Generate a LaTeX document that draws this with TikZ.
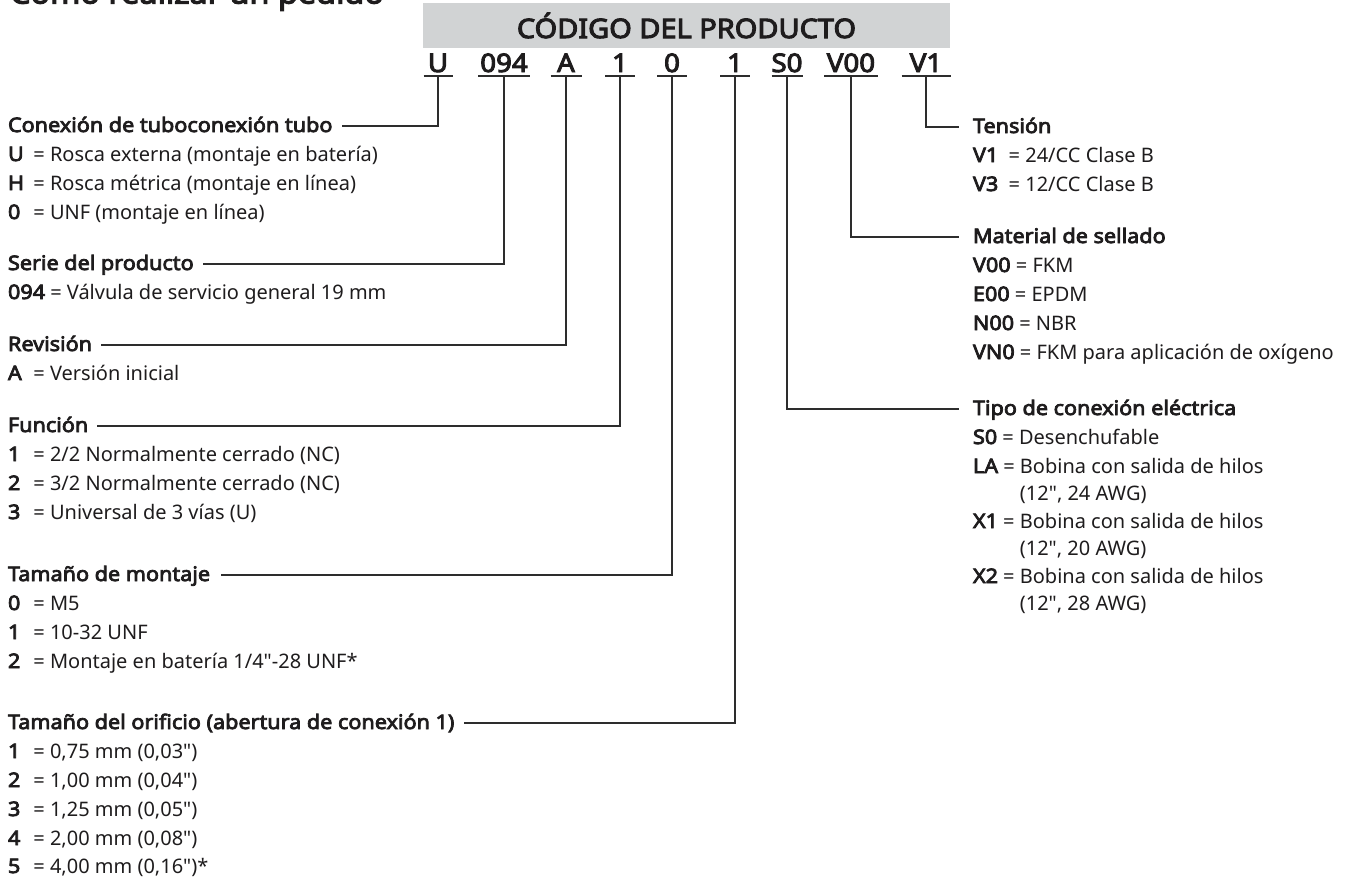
\documentclass[tikz,border=0pt]{standalone}
\usepackage{fontspec}
\setmainfont{Noto Sans}[Ligatures=TeXOff, BoldFont={Noto Sans}, BoldFeatures={FakeBold=3.8, FakeStretch=1.08}]
\definecolor{hdrgray}{RGB}{209,211,212}
\definecolor{ink}{RGB}{30,28,29}
\definecolor{linec}{RGB}{45,45,45}
\newcommand{\kk}[1]{\makebox[12.7pt][l]{\textbf{#1}}}
\begin{document}
\begin{tikzpicture}[x=0.5pt,y=-0.5pt,
  every node/.style={inner sep=0pt, outer sep=0pt, text=ink},
  body/.style={anchor=base west, font=\fontsize{10}{14.5}\selectfont},
  head/.style={anchor=base west, font=\fontsize{10}{14.5}\selectfont\bfseries},
  codebox/.style={anchor=south, font=\fontsize{12.8}{14}\selectfont\bfseries, inner ysep=2pt, text depth=0pt},
  ul/.style={draw=linec, line width=0.75pt},
  conn/.style={draw=linec, line width=0.65pt},
  titlestyle/.style={anchor=base west, font=\fontsize{15}{18}\selectfont\bfseries}
]
\useasboundingbox (0,0) rectangle (1349,879);

% title (cut at top)
\node[titlestyle] (title) at (10,3.5) {Cómo realizar un pedido};

% header
\node[anchor=north west, fill=hdrgray, minimum width=263.5pt, minimum height=22.5pt,
      font=\fontsize{13.4}{15}\selectfont\bfseries] (hdr) at (423,3) {CÓDIGO DEL PRODUCTO};

% code letters
\node[codebox, minimum width=14.5pt] (cU) at (438,76) {U};
\node[codebox, minimum width=26pt]   (c094) at (504,76) {094};
\node[codebox, minimum width=15.5pt] (cA) at (566,76) {A};
\node[codebox, minimum width=15pt]   (cF) at (620,76) {1};
\node[codebox, minimum width=15pt]   (cM) at (672,76) {0};
\node[codebox, minimum width=15pt]   (cO) at (735,76) {1};
\node[codebox, minimum width=15pt]   (cS) at (787,76) {S0};
\node[codebox, minimum width=27pt]   (cV) at (851,76) {V00};
\node[codebox, minimum width=24.5pt] (cT) at (926,76) {V1};
\foreach \n in {cU,c094,cA,cF,cM,cO,cS,cV,cT}
  \draw[ul] (\n.south west) -- (\n.south east);

% left column
\node[head] (hCon) at (8,132) {Conexión de tuboconexión tubo};
\node[body] (u1) at (8,161) {\kk{U}= Rosca externa (montaje en batería)};
\node[body] (u2) at (8,190) {\kk{H}= Rosca métrica (montaje en línea)};
\node[body] (u3) at (8,219) {\kk{0}= UNF (montaje en línea)};

\node[head] (hSer) at (8,270) {Serie del producto};
\node[body] (s1) at (8,299) {\textbf{094} = Válvula de servicio general 19 mm};

\node[head] (hRev) at (8,351) {Revisión};
\node[body] (r1) at (8,380) {\kk{A}= Versión inicial};

\node[head] (hFun) at (8,432) {Función};
\node[body] (f1) at (8,461) {\kk{1}= 2/2 Normalmente cerrado (NC)};
\node[body] (f2) at (8,490) {\kk{2}= 3/2 Normalmente cerrado (NC)};
\node[body] (f3) at (8,519) {\kk{3}= Universal de 3 vías (U)};

\node[head] (hTam) at (8,581) {Tamaño de montaje};
\node[body] (t1) at (8,610) {\kk{0}= M5};
\node[body] (t2) at (8,639) {\kk{1}= 10-32 UNF};
\node[body] (t3) at (8,668) {\kk{2}= Montaje en batería 1/4"-28 UNF*};

\node[head] (hOri) at (8,729) {Tamaño del orificio (abertura de conexión 1)};
\node[body] (o1) at (8,758) {\kk{1}= 0,75 mm (0,03")};
\node[body] (o2) at (8,787) {\kk{2}= 1,00 mm (0,04")};
\node[body] (o3) at (8,816) {\kk{3}= 1,25 mm (0,05")};
\node[body] (o4) at (8,845) {\kk{4}= 2,00 mm (0,08")};
\node[body] (o5) at (8,873) {\kk{5}= 4,00 mm (0,16")*};

% right column
\node[head] (hTen) at (973,133) {Tensión};
\node[body] (v1) at (973,162) {\textbf{V1}\ \ = 24/CC Clase B};
\node[body] (v3) at (973,191) {\textbf{V3}\ \ = 12/CC Clase B};

\node[head] (hMat) at (973,243) {Material de sellado};
\node[body] (m1) at (973,272) {\textbf{V00} = FKM};
\node[body] (m2) at (973,301) {\textbf{E00} = EPDM};
\node[body] (m3) at (973,330) {\textbf{N00} = NBR};
\node[body] (m4) at (973,359) {\textbf{VN0} = FKM para aplicación de oxígeno};

\node[head] (hTip) at (973,415) {Tipo de conexión eléctrica};
\node[body] (e1) at (973,444) {\textbf{S0} = Desenchufable};
\node[body] (e2) at (973,473) {\textbf{LA} = Bobina con salida de hilos};
\node[body] (e2b) at (973,500) {\phantom{\textbf{LA} = }(12", 24 AWG)};
\node[body] (e3) at (973,528) {\textbf{X1} = Bobina con salida de hilos};
\node[body] (e3b) at (973,555) {\phantom{\textbf{X1} = }(12", 20 AWG)};
\node[body] (e4) at (973,583) {\textbf{X2} = Bobina con salida de hilos};
\node[body] (e4b) at (973,610) {\phantom{\textbf{X2} = }(12", 28 AWG)};

% connectors
\draw[conn] (cU.south)   |- ([xshift=4.5pt,yshift=3pt]hCon.base east);
\draw[conn] (c094.south) |- ([xshift=4.5pt,yshift=3pt]hSer.base east);
\draw[conn] (cA.south)   |- ([xshift=4.5pt,yshift=3pt]hRev.base east);
\draw[conn] (cF.south)   |- ([xshift=4.5pt,yshift=3pt]hFun.base east);
\draw[conn] (cM.south)   |- ([xshift=5.5pt,yshift=3pt]hTam.base east);
\draw[conn] (cO.south)   |- ([xshift=5pt,yshift=3pt]hOri.base east);
\draw[conn] (cS.south)   |- ([xshift=-7pt,yshift=3pt]hTip.base west);
\draw[conn] (cV.south)   |- ([xshift=-7pt,yshift=3pt]hMat.base west);
\draw[conn] (cT.south)   |- ([xshift=-7pt,yshift=3pt]hTen.base west);
\end{tikzpicture}
\end{document}
